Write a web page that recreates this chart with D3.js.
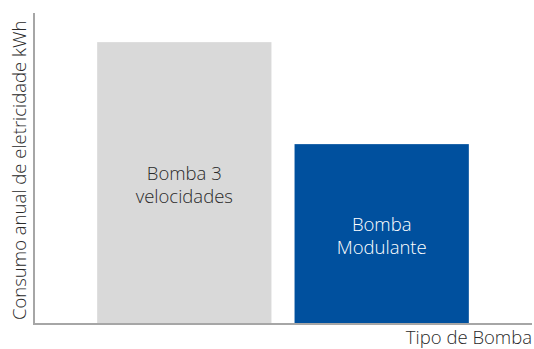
<!DOCTYPE html>
<html>
<head>
<meta charset="utf-8">
<script src="https://cdn.jsdelivr.net/npm/d3@7"></script>
<style>
  body { margin: 0; background: #fff; }
  text { font-family: "Open Sans", sans-serif; font-weight: 300; }
</style>
</head>
<body>
<svg id="chart" width="534" height="349"></svg>
<script>
// values (relative kWh, no ticks shown)
const categories = ['Bomba 3 velocidades', 'Bomba Modulante']
const barLines = [['Bomba 3', 'velocidades'], ['Bomba', 'Modulante']]
const values = [906, 577]
const barColors = ['#d9d9d9', '#00509e']
const labelColors = ['#2a2a2a', '#ffffff']

const width = 534, height = 349
const margin = {left: 34, right: 2, top: 13, bottom: 26}

const svg = d3.select('#chart')

const x = d3.scaleBand()
    .domain(categories)
    .range([margin.left, width - margin.right])
    .paddingInner(0.117)
    .paddingOuter(0.32)

const y = d3.scaleLinear()
    .domain([0, 1000])
    .range([height - margin.bottom, margin.top])

svg.selectAll('.bar')
    .data(categories)
    .enter().append('rect')
    .attr('class', 'bar')
    .attr('x', d => x(d))
    .attr('y', (d, i) => y(values[i]))
    .attr('width', x.bandwidth())
    .attr('height', (d, i) => y(0) - y(values[i]))
    .style('fill', (d, i) => barColors[i])

// labels inside the bars
const lab = svg.selectAll('.lab')
    .data(categories)
    .enter().append('text')
    .attr('class', 'lab')
    .attr('text-anchor', 'middle')
    .attr('font-size', 18.5)
    .style('fill', (d, i) => labelColors[i])
    .attr('transform', (d, i) => {
        let cy = (y(values[i]) + y(0)) / 2
        return 'translate(' + (x(d) + x.bandwidth() / 2) + ',' + cy + ')'
    })

lab.selectAll('tspan')
    .data((d, i) => barLines[i])
    .enter().append('tspan')
    .attr('x', 0)
    .attr('y', (d, j) => j === 0 ? -3 : 20)
    .text(d => d)

// axes: plain lines, no ticks
const axisColor = '#a6a6a6'
svg.append('line')
    .attr('x1', margin.left).attr('x2', margin.left)
    .attr('y1', margin.top).attr('y2', y(0) + 1)
    .attr('stroke', axisColor).attr('stroke-width', 2)
svg.append('line')
    .attr('x1', margin.left - 1).attr('x2', width - margin.right)
    .attr('y1', y(0) + 1).attr('y2', y(0) + 1)
    .attr('stroke', axisColor).attr('stroke-width', 2)

svg.append('text')
    .attr('x', width - margin.right)
    .attr('y', 344)
    .attr('text-anchor', 'end')
    .attr('font-size', 18.5)
    .style('fill', '#2a2a2a')
    .text('Tipo de Bomba')

svg.append('text')
    .attr('transform', 'translate(26,' + (height - margin.bottom - 3) + ') rotate(-90)')
    .attr('text-anchor', 'start')
    .attr('font-size', 18.5)
    .style('fill', '#2a2a2a')
    .text('Consumo anual de eletricidade kWh')
</script>
</body>
</html>
